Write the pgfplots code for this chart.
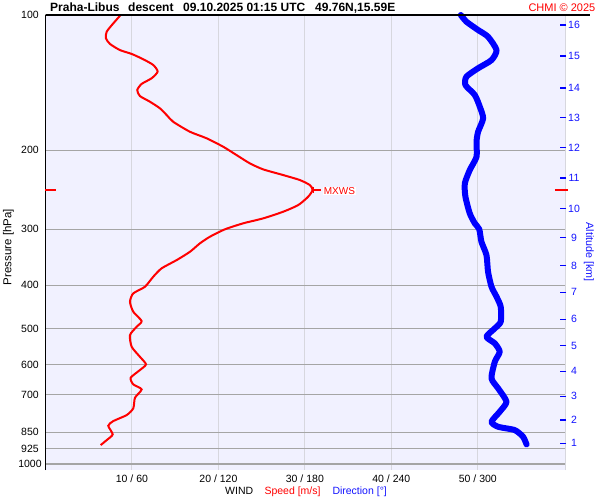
\documentclass[border=0pt]{standalone}
\usepackage{fontspec}
\setmainfont{Liberation Sans}
\usepackage{pgfplots}
\pgfplotsset{compat=1.18}
\usepackage{pgfplotstable}
\definecolor{bgc}{RGB}{241,241,255}
\definecolor{hgrid}{RGB}{165,165,165}
\definecolor{vgrid}{RGB}{215,215,222}
\definecolor{tblue}{RGB}{20,20,255}

\pgfplotstableread{
p v
100 8.69
104.4 7.84
108.9 7.08
112.7 6.99
116.0 7.46
119.7 8.61
122.1 9.97
125.5 11.31
129.2 12.46
133.7 12.97
138.3 12.28
142.4 11.12
146.9 10.61
151.5 10.92
156.0 12.08
161.4 13.24
167.0 14.01
172.9 14.77
182.0 16.71
188.2 18.64
196.5 20.55
205.1 22.10
214.0 23.64
220.7 25.18
227.2 27.49
233.1 29.42
239.2 30.58
245.4 30.89
253.9 30.38
265.0 29.23
274.2 27.49
283.7 25.18
291.0 22.87
300.1 20.75
311.7 19.02
322.5 17.86
336.7 16.71
351.4 15.17
366.6 13.43
382.8 12.46
402.9 11.50
416.8 10.15
435.1 9.77
458.0 10.15
480.4 11.12
494.6 10.54
516.2 9.77
548.1 9.97
576.9 10.92
599.8 11.62
617.6 10.92
642.5 9.85
664.6 10.15
681.8 11.12
711.9 10.35
751.6 10.15
777.9 9.39
802.2 7.84
821.8 7.26
858.9 7.77
884.4 7.08
907.3 6.38
}\speed

\pgfplotstableread{
p v
100 288.2
103.5 292.1
108.0 300.2
111.8 307.1
119.7 313.0
126.0 309.5
131.4 300.2
137.2 292.1
143.2 291.4
150.7 297.9
160.1 301.4
169.9 303.7
182.0 300.2
191.5 299.1
206.9 299.1
221.5 294.4
237.1 291.0
253.9 291.4
276.5 294.4
291.0 297.9
300.0 301.0
319.8 302.5
342.5 306.0
373.1 307.1
402.9 309.5
424.1 313.0
446.4 315.9
482.1 315.9
498.7 311.8
520.7 306.0
538.6 311.8
562.3 315.2
591.9 311.8
644.5 309.5
678.3 314.1
726.6 319.9
764.8 315.2
805.1 309.5
826.0 314.1
840.1 325.6
869.5 331.4
904.1 333.8
}\direction

\begin{document}
\begin{tikzpicture}[x=1pt,y=1pt]
\path[use as bounding box, fill=white] (0,0) rectangle (600,500);
\begin{axis}[
  at={(45.5pt,30pt)}, anchor=south west,
  scale only axis, width=520.5pt, height=455pt,
  xmin=0, xmax=60.2,
  ymode=log, y dir=reverse, ymin=100, ymax=1031,
  yminorticks=false,
  axis background/.style={fill=bgc},
  axis line style={draw=none},
  major tick length=0pt,
  xtick={10,20,30,40,50},
  xticklabels={10 / 60, 20 / 120, 30 / 180, 40 / 240, 50 / 300},
  ytick={100,200,300,400,500,600,700,850,925,1000},
  yticklabels={100,200,300,400,500,600,700,850,925,1000},
  xmajorgrids, ymajorgrids,
  x grid style={vgrid, line width=1pt},
  y grid style={hgrid, line width=1.2pt},
  ticklabel style={font=\fontsize{10.5}{12}\selectfont},
  yticklabel style={anchor=center, xshift=-15.5pt},
  xticklabel style={anchor=center, yshift=-8.5pt},
  clip=false,
]
\draw[vgrid, line width=1pt] (rel axis cs:1,0) -- (rel axis cs:1,1);
\draw[black, line width=1.2pt] (rel axis cs:0,0) -- (rel axis cs:0,1);
\addplot[red, line width=2pt, smooth, tension=0.4] table[x=v,y=p]{\speed};
\addplot[red, line width=1.3pt] coordinates {(0,245.4) (1.2,245.4)};
\addplot[red, line width=1.3pt] coordinates {(58.9,245.4) (60.4,245.4)};
\addplot[red, line width=1.3pt] coordinates {(30.96,245.4) (31.85,245.4)};
\addplot[red, line width=1.3pt] coordinates {(30.96,241.3) (30.96,249.5)};
\node[red, fill=white, inner sep=0.6pt, anchor=west, font=\fontsize{10}{12}\selectfont] at (axis cs:32.1,247) {MXWS};
\end{axis}
\begin{axis}[
  at={(45.5pt,30pt)}, anchor=south west,
  scale only axis, width=520.5pt, height=455pt,
  xmin=0, xmax=361.2,
  ymode=log, y dir=reverse, ymin=100, ymax=1031,
  yminorticks=false,
  axis line style={draw=none},
  xtick=\empty,
  ytick={899.3,798.0,705.8,621.7,545.2,476.1,414.6,361.7,313.0,270.1,230.7,197.5,169.3,145.4,123.4,105.3},
  yticklabels={1,2,3,4,5,6,7,8,9,10,11,12,13,14,15,16},
  ytick pos=right, yticklabel pos=right,
  tick align=inside, major tick length=6pt,
  y tick style={blue, line width=1.2pt},
  yticklabel style={tblue, anchor=center, xshift=8pt, font=\fontsize{10.5}{12}\selectfont},
  clip=false,
]
\addplot[blue, line width=6pt, line cap=round, line join=round, smooth, tension=0.4] table[x=v,y=p]{\direction};
\end{axis}
\draw[black, line width=1.2pt] (45.5,485) -- (590,485);
\begin{scope}[every node/.style={inner sep=0pt}]
\node[anchor=base west, font=\bfseries\fontsize{12}{14}\selectfont] at (50,488) {Praha-Libus};
\node[anchor=base west, font=\bfseries\fontsize{12}{14}\selectfont] at (128,488) {descent};
\node[anchor=base west, font=\bfseries\fontsize{12}{14}\selectfont] at (183,488) {09.10.2025 01:15 UTC};
\node[anchor=base west, font=\bfseries\fontsize{12}{14}\selectfont] at (315,488) {49.76N,15.59E};
\node[anchor=base east, red, font=\fontsize{11}{13}\selectfont] at (595.5,488) {CHMI © 2025};
\node[rotate=90, font=\fontsize{11.5}{13}\selectfont] at (8.3,253) {Pressure [hPa]};
\node[rotate=-90, tblue, font=\fontsize{10.7}{13}\selectfont] at (589,248) {Altitude [km]};
\node[anchor=base west, font=\fontsize{10.5}{12}\selectfont] at (225,5) {WIND};
\node[anchor=base west, red, font=\fontsize{10.5}{12}\selectfont] at (264.3,5) {Speed [m/s]};
\node[anchor=base west, tblue, font=\fontsize{10.5}{12}\selectfont] at (332.3,5) {Direction [°]};
\end{scope}
\end{tikzpicture}
\end{document}
